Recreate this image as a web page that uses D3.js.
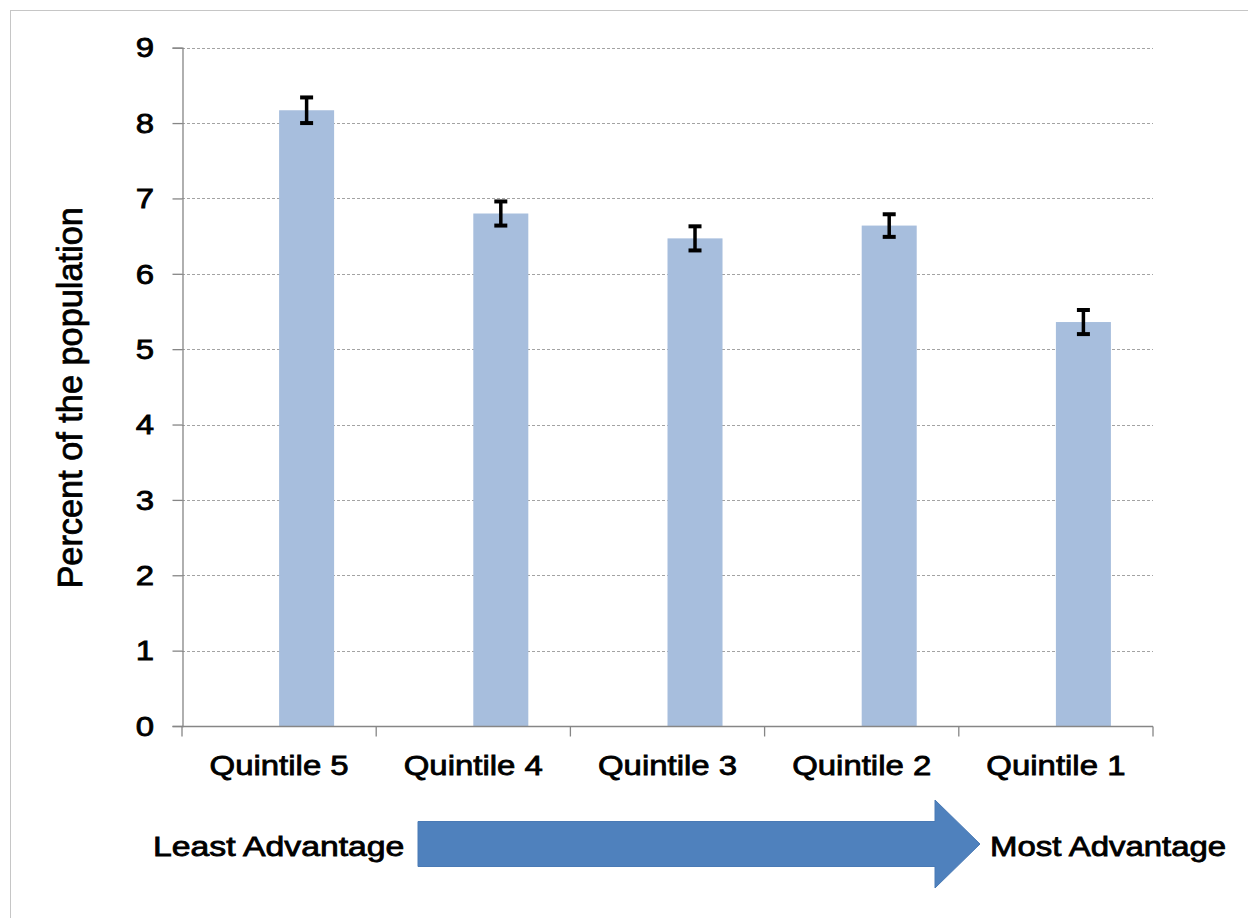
<!DOCTYPE html>
<html>
<head>
<meta charset="utf-8">
<script src="https://cdn.jsdelivr.net/npm/d3@7"></script>
<style>
  body { margin: 0; background: #fff; }
  svg text { font-family: "Liberation Sans", Arial, sans-serif; fill: #000; stroke: #000; stroke-width: 0.8px; }
</style>
</head>
<body>
<div id="chart"></div>
<script>
// data
var categories = ["Quintile 5", "Quintile 4", "Quintile 3", "Quintile 2", "Quintile 1"];
var percents   = [8.17, 6.80, 6.47, 6.64, 5.36];
var errors     = [0.17, 0.16, 0.16, 0.15, 0.16];
var yTicks     = [0, 1, 2, 3, 4, 5, 6, 7, 8, 9];
var yTitle     = "Percent of the population";
var leftLabel  = "Least Advantage";
var rightLabel = "Most Advantage";

var W = 1248, H = 918;
var plot = {left: 182, right: 1153, top: 47.7, bottom: 726};
var stretchX = 1.22;   // the reference text is wide

var data = categories.map(function(c, i){
    return {cat: c, value: percents[i], err: errors[i]};
});

var svg = d3.select("#chart")
    .append("svg")
    .attr("width", W)
    .attr("height", H);

// outer frame (only top and left edges show in the picture)
svg.append("rect")
    .attr("x", 10.5).attr("y", 10.5)
    .attr("width", W).attr("height", H)
    .attr("fill", "none")
    .attr("stroke", "#c6c6c6")
    .attr("stroke-width", 1);

// scales
var y = d3.scaleLinear().domain([0, 9]).range([plot.bottom, plot.top]);
var x0 = d3.scaleBand().domain(categories).range([plot.left, plot.right]);
// two slots per category, the first one is empty (bars sit right of centre)
var x1 = d3.scaleBand().domain(["blank", "pct"])
    .range([0, x0.bandwidth()])
    .paddingOuter(0.765);

// gridlines
svg.append("g")
    .selectAll("line")
    .data(yTicks.filter(function(d){ return d > 0; }))
    .enter()
    .append("line")
    .attr("x1", plot.left).attr("x2", plot.right)
    .attr("y1", function(d){ return Math.round(y(d)) + 0.5; })
    .attr("y2", function(d){ return Math.round(y(d)) + 0.5; })
    .attr("stroke", "#a3a3a3")
    .attr("stroke-width", 1.2)
    .attr("stroke-dasharray", "3,2");

// bars
svg.append("g")
    .selectAll("rect")
    .data(data)
    .enter()
    .append("rect")
    .attr("x", function(d){ return x0(d.cat) + x1("pct"); })
    .attr("y", function(d){ return y(d.value); })
    .attr("width", x1.bandwidth())
    .attr("height", function(d){ return y(0) - y(d.value); })
    .attr("fill", "#a7bedd");

// error bars
var eb = svg.append("g")
    .selectAll("g")
    .data(data)
    .enter()
    .append("g")
    .attr("stroke", "#000");

function cx(d){ return x0(d.cat) + x1("pct") + x1.bandwidth()/2; }

eb.append("line")
    .attr("stroke-width", 3.5)
    .attr("x1", cx).attr("x2", cx)
    .attr("y1", function(d){ return y(d.value + d.err); })
    .attr("y2", function(d){ return y(d.value - d.err); });
eb.append("line")
    .attr("stroke-width", 4)
    .attr("x1", function(d){ return cx(d) - 6.5; })
    .attr("x2", function(d){ return cx(d) + 6.5; })
    .attr("y1", function(d){ return y(d.value + d.err); })
    .attr("y2", function(d){ return y(d.value + d.err); });
eb.append("line")
    .attr("stroke-width", 4)
    .attr("x1", function(d){ return cx(d) - 6.5; })
    .attr("x2", function(d){ return cx(d) + 6.5; })
    .attr("y1", function(d){ return y(d.value - d.err); })
    .attr("y2", function(d){ return y(d.value - d.err); });

// y axis
var yAxis = svg.append("g")
    .attr("transform", "translate(" + (plot.left + 0.5) + ",0)")
    .call(d3.axisLeft(y).tickValues(yTicks).tickSize(10).tickFormat(""));
yAxis.select(".domain").attr("stroke", "#868686").attr("stroke-width", 1.3);
yAxis.selectAll(".tick line").attr("stroke", "#868686").attr("stroke-width", 1.3);

svg.append("g")
    .selectAll("text")
    .data(yTicks)
    .enter()
    .append("text")
    .attr("transform", function(d){ return "translate(154," + y(d) + ") scale(" + stretchX + ",1)"; })
    .attr("text-anchor", "end")
    .attr("dy", "0.36em")
    .style("font-size", "27px")
    .text(function(d){ return d; });

// x axis
var xAxis = svg.append("g")
    .attr("transform", "translate(0," + (plot.bottom + 0.5) + ")");
xAxis.append("line")
    .attr("x1", plot.left).attr("x2", plot.right)
    .attr("stroke", "#868686").attr("stroke-width", 1.3);
xAxis.selectAll(".cat-tick")
    .data(categories.concat(["end"]))
    .enter()
    .append("line")
    .attr("class", "cat-tick")
    .attr("x1", function(d, i){ return i < categories.length ? x0(d) : plot.right; })
    .attr("x2", function(d, i){ return i < categories.length ? x0(d) : plot.right; })
    .attr("y1", 0).attr("y2", 10)
    .attr("stroke", "#868686").attr("stroke-width", 1.3);

xAxis.selectAll("text")
    .data(categories)
    .enter()
    .append("text")
    .attr("transform", function(d){ return "translate(" + (x0(d) + x0.bandwidth()/2) + ",48) scale(" + stretchX + ",1)"; })
    .attr("text-anchor", "middle")
    .style("font-size", "27px")
    .text(function(d){ return d; });

// y title
svg.append("text")
    .attr("transform", "translate(82," + ((plot.top + plot.bottom)/2 + 11) + ") rotate(-90)")
    .attr("text-anchor", "middle")
    .style("font-size", "34.3px")
    .text(yTitle);

// arrow between the two end labels
var arrow = {x0: 418, xBase: 935, tip: 980, yMid: 844, body: 22.5, head: 44};
var arrowPath = d3.path();
arrowPath.moveTo(arrow.x0, arrow.yMid - arrow.body);
arrowPath.lineTo(arrow.xBase, arrow.yMid - arrow.body);
arrowPath.lineTo(arrow.xBase, arrow.yMid - arrow.head);
arrowPath.lineTo(arrow.tip, arrow.yMid);
arrowPath.lineTo(arrow.xBase, arrow.yMid + arrow.head);
arrowPath.lineTo(arrow.xBase, arrow.yMid + arrow.body);
arrowPath.lineTo(arrow.x0, arrow.yMid + arrow.body);
arrowPath.closePath();

svg.append("path")
    .attr("d", arrowPath.toString())
    .attr("fill", "#4f81bd")
    .attr("stroke", "#4a7ab5")
    .attr("stroke-width", 1);

svg.append("text")
    .attr("transform", "translate(153,856) scale(1.25,1)")
    .style("font-size", "27px")
    .text(leftLabel);

svg.append("text")
    .attr("transform", "translate(990,856) scale(" + stretchX + ",1)")
    .style("font-size", "27px")
    .text(rightLabel);
</script>
</body>
</html>
